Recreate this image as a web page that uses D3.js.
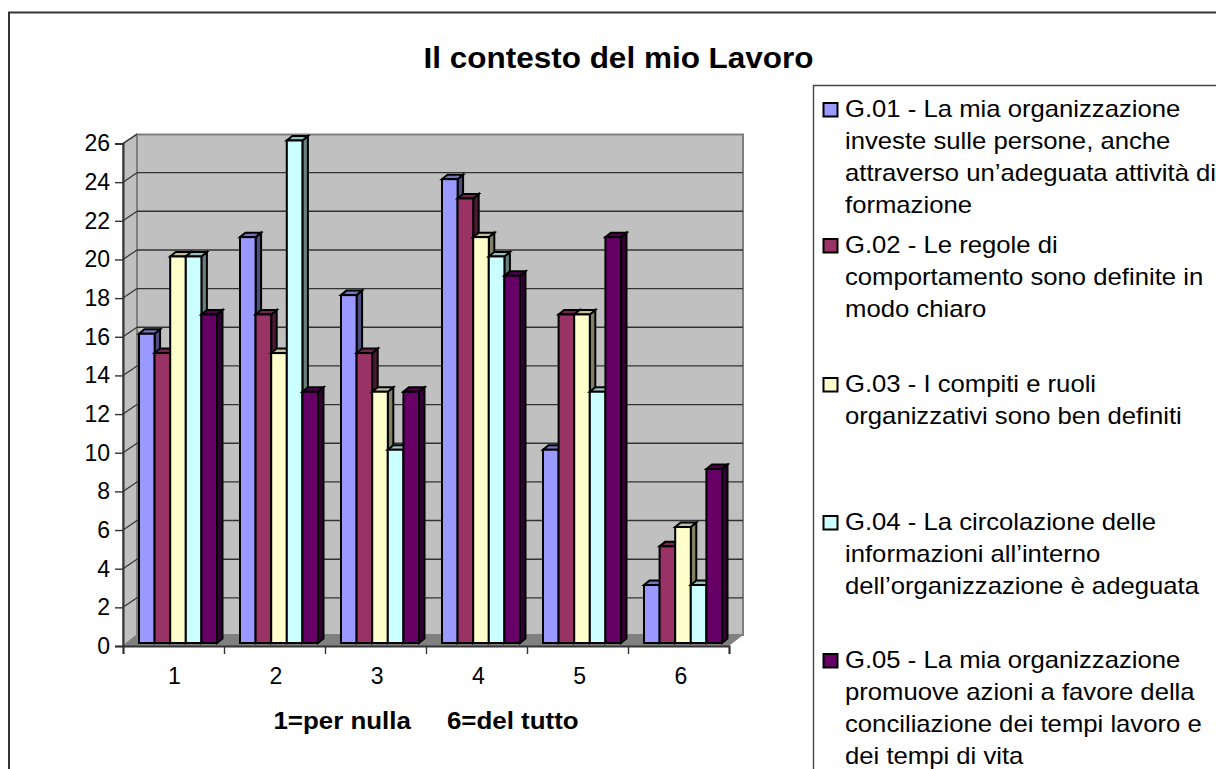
<!DOCTYPE html>
<html><head><meta charset="utf-8">
<script src="https://cdn.jsdelivr.net/npm/d3@7"></script>
<style>html,body{margin:0;padding:0;background:#fff;overflow:hidden}svg{display:block}text{font-family:"Liberation Sans",Arial,sans-serif;fill:#000}</style>
</head><body><svg id="c" width="1216" height="769"></svg>
<script>
const categories = ["1","2","3","4","5","6"];
const seriesNames = ["G.01","G.02","G.03","G.04","G.05"];
const seriesColors = ["#9999ff","#993366","#ffffcc","#ccffff","#660066"];
const g01 = [16,21,18,24,10,3];
const g02 = [15,17,15,23,17,5];
const g03 = [20,15,13,21,17,6];
const g04 = [20,26,10,20,13,3];
const g05 = [17,13,13,19,21,9];
const seriesValues = [g01,g02,g03,g04,g05];
const yTicks = d3.range(0,27,2);
const titleText = "Il contesto del mio Lavoro";
const xTitle = "1=per nulla     6=del tutto";
const legendLines = [
 ["G.01 - La mia organizzazione","investe sulle persone, anche","attraverso un’adeguata attività di","formazione"],
 ["G.02 - Le regole di","comportamento sono definite in","modo chiaro"],
 ["G.03 - I compiti e ruoli","organizzativi sono ben definiti"],
 ["G.04 - La circolazione delle","informazioni all’interno","dell’organizzazione è adeguata"],
 ["G.05 - La mia organizzazione","promuove azioni a favore della","conciliazione dei tempi lavoro e","dei tempi di vita"]
];
const legendBase = [117,253,392,530,668];

const svg = d3.select("#c");
const L=123,R=729,Y0=646,YT=143.5,DX=14,DY=11;
const x = d3.scaleBand().domain(categories).range([L,R]);
const xLab = d3.scalePoint().domain(categories).range([174.5,681]);
const y = d3.scaleLinear().domain([0,26]).range([Y0,YT]);
const inner = d3.scaleBand().domain(seriesNames).range([16,94]);
const poly = pts=>pts.map(p=>p.join(",")).join(" ");

// frame
svg.append("path").attr("d","M9,769V12.5H1216").attr("fill","none").attr("stroke","#333").attr("stroke-width",2);
svg.append("path").attr("d","M1216,85.5H813.5V769").attr("fill","none").attr("stroke","#444").attr("stroke-width",1.4);

// walls
svg.append("polygon").attr("points",poly([[L,YT],[L+DX,YT-DY+2],[L+DX,Y0-DY],[L,Y0]])).attr("fill","#c0c0c0").attr("stroke","#808080").attr("stroke-width",1.5);
svg.append("rect").attr("x",L+DX).attr("y",YT-DY+2).attr("width",R-L).attr("height",Y0-YT-2).attr("fill","#c0c0c0").attr("stroke","#808080").attr("stroke-width",2);
svg.append("polygon").attr("points",poly([[L,Y0],[L+DX,Y0-DY],[R+DX,Y0-DY],[R,Y0]])).attr("fill","#808080");

// grid
const gridG = svg.append("g");
yTicks.filter(t=>t>0&&t<26).forEach(t=>{
  gridG.append("line").attr("x1",L+DX).attr("x2",R+DX).attr("y1",y(t)-DY+1.5).attr("y2",y(t)-DY+1.5).attr("stroke","#333").attr("stroke-width",1.4);
});
yTicks.filter(t=>t>0).forEach(t=>{
  gridG.append("line").attr("x1",L).attr("x2",L+DX).attr("y1",y(t)).attr("y2",y(t)-DY+1.5).attr("stroke","#333").attr("stroke-width",1.2);
});

// bars
const bw = inner.bandwidth(), bdx=5.5, bdy=4.5, off=3;
const barG = svg.append("g").attr("stroke","#000").attr("stroke-width",2).attr("stroke-linejoin","miter");
categories.forEach((c,ci)=>{
  seriesNames.forEach((s,si)=>{
    const v = seriesValues[si][ci], col = d3.color(seriesColors[si]);
    const x0 = x(c)+inner(s), x1=x0+bw, yt=y(v)-off, yb=Y0-off;
    const g = barG.append("g");
    g.append("polygon").attr("points",poly([[x1,yt],[x1+bdx,yt-bdy],[x1+bdx,yb-bdy],[x1,yb]])).attr("fill",d3.rgb(col.r*.5,col.g*.5,col.b*.5));
    g.append("polygon").attr("points",poly([[x0,yt],[x0+bdx,yt-bdy],[x1+bdx,yt-bdy],[x1,yt]])).attr("fill",d3.rgb(col.r*.75,col.g*.75,col.b*.75));
    g.append("rect").attr("x",x0).attr("y",yt).attr("width",bw).attr("height",yb-yt).attr("fill",col);
  });
});

// axes
const yAxis = d3.axisLeft(y).tickValues(yTicks).tickSize(8).tickPadding(5).tickFormat(d3.format("d"));
const yg = svg.append("g").attr("transform",`translate(${L},0)`).call(yAxis);
const xAxis = d3.axisBottom(d3.scaleLinear().domain([0,6]).range([L,R])).ticks(6).tickSize(8).tickFormat("");
const xg = svg.append("g").attr("transform",`translate(0,${Y0})`).call(xAxis);
[yg,xg].forEach(g=>{g.selectAll("path").attr("stroke","#333").attr("stroke-width",2);g.selectAll("line").attr("stroke","#333").attr("stroke-width",1.4);});
yg.selectAll("text").attr("font-size",23).attr("fill","#000").style("font-family",'"Liberation Sans"');
svg.append("g").selectAll("text").data(categories).join("text").attr("x",c=>xLab(c)).attr("y",684).attr("text-anchor","middle").attr("font-size",23).text(c=>c);

// titles
const stretched = (g,tx,ty,sx,size,str,anchor)=>g.append("text")
  .attr("transform",`translate(${tx},${ty}) scale(${sx},1)`)
  .attr("text-anchor",anchor).attr("font-size",size).style("white-space","pre").text(str);
stretched(svg,618.5,67.5,1.05,30,titleText,"middle").attr("font-weight","bold");
stretched(svg,426,728.5,1.08,24,xTitle,"middle").attr("font-weight","bold");

// legend
const lg = svg.append("g");
legendLines.forEach((lines,i)=>{
  lg.append("rect").attr("x",823.5).attr("y",legendBase[i]-14).attr("width",14).attr("height",13.5).attr("fill",seriesColors[i]).attr("stroke","#000").attr("stroke-width",2);
  lines.forEach((t,j)=>{
    stretched(lg,845,legendBase[i]+j*32,1.07,24,t,"start");
  });
});
</script></body></html>
